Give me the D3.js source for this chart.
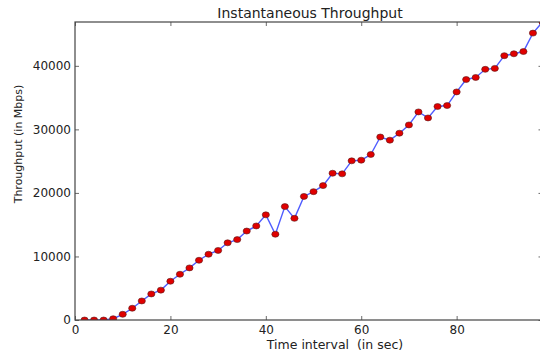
<!DOCTYPE html>
<html>
<head>
<meta charset="utf-8">
<script src="https://cdn.jsdelivr.net/npm/d3@7"></script>
<style>
  html, body { margin: 0; padding: 0; background: #fff; }
  svg { display: block; }
  text { font-family: "DejaVu Sans", sans-serif; fill: #222; }
</style>
</head>
<body>
<svg id="chart" width="540" height="358"></svg>
<script>
// ---- data ----
const timeSec = [2, 4, 6, 8, 10, 12, 14, 16, 18, 20, 22, 24, 26, 28, 30, 32, 34, 36, 38, 40,
                 42, 44, 46, 48, 50, 52, 54, 56, 58, 60, 62, 64, 66, 68, 70, 72, 74, 76, 78, 80,
                 82, 84, 86, 88, 90, 92, 94, 96, 98];
const throughput = [0, 0, 0, 200, 900, 1850, 3000, 4100, 4700, 6100, 7200, 8200, 9400, 10350, 10950,
                    12150, 12650, 14000, 14800, 16550, 13500, 17850, 16000, 19450, 20200, 21150,
                    23100, 23000, 25050, 25150, 26050, 28800, 28300, 29400, 30700, 32750, 31800,
                    33600, 33750, 35900, 37850, 38170, 39450, 39600, 41600, 41900, 42250, 45150, 46900];
const xTicks = [0, 20, 40, 60, 80];
const yTicks = [0, 10000, 20000, 30000, 40000];
const titleText = "Instantaneous Throughput";
const xLabel = "Time interval  (in sec)";
const yLabel = "Throughput (in Mbps)";

(function () {
// ---- layout ----
const svg = d3.select("#chart");
const pL = 75, pT = 22, pR = 542.5, pB = 320;
const x = d3.scaleLinear().domain([0, 98]).range([pL, pR]);
const y = d3.scaleLinear().domain([0, 46900]).range([pB, pT]);

svg.append("defs").append("clipPath").attr("id", "plotclip")
  .append("rect").attr("x", pL).attr("y", pT).attr("width", pR - pL).attr("height", pB - pT);

const data = timeSec.map((t, i) => ({ t, v: throughput[i] }));

const plot = svg.append("g").attr("clip-path", "url(#plotclip)");
plot.append("path")
  .datum(data)
  .attr("fill", "none")
  .attr("stroke", "#4f5cff")
  .attr("stroke-width", 1.4)
  .attr("d", d3.line().x(d => x(d.t)).y(d => y(d.v)));

plot.selectAll("ellipse").data(data).enter().append("ellipse")
  .attr("cx", d => x(d.t)).attr("cy", d => y(d.v))
  .attr("rx", 3.6).attr("ry", 3)
  .attr("fill", "#e00000")
  .attr("stroke", "#5a1a1a").attr("stroke-width", 0.6);

// ---- axes (ticks inward on all sides) ----
const tickLen = 4;
const axCol = "#444";
const gAx = svg.append("g");

const xb = gAx.append("g").attr("transform", `translate(0,${pB})`)
  .call(d3.axisBottom(x).tickValues(xTicks).tickSizeInner(-tickLen).tickSizeOuter(0).tickPadding(5));
const xt = gAx.append("g").attr("transform", `translate(0,${pT})`)
  .call(d3.axisTop(x).tickValues(xTicks).tickSizeInner(-tickLen).tickSizeOuter(0).tickFormat(""));
const yl = gAx.append("g").attr("transform", `translate(${pL},0)`)
  .call(d3.axisLeft(y).tickValues(yTicks).tickSizeInner(-tickLen).tickSizeOuter(0).tickPadding(4)
    .tickFormat(d3.format("d")));
const yr = gAx.append("g").attr("transform", `translate(${pR},0)`)
  .call(d3.axisRight(y).tickValues(yTicks).tickSizeInner(-tickLen).tickSizeOuter(0).tickFormat(""));

[xb, xt, yl, yr].forEach(g => {
  g.select(".domain").remove();
  g.selectAll(".tick line").attr("stroke", axCol).attr("stroke-width", 0.8);
  g.selectAll(".tick text").attr("font-size", 12).attr("font-family", "DejaVu Sans, sans-serif").attr("fill", "#222");
});

svg.append("rect")
  .attr("x", pL).attr("y", pT).attr("width", pR - pL).attr("height", pB - pT)
  .attr("fill", "none").attr("stroke", axCol).attr("stroke-width", 1.2);

// ---- labels ----
svg.append("text").attr("x", 310).attr("y", 18).attr("text-anchor", "middle")
  .attr("font-size", 14).text(titleText);
svg.append("text").attr("x", 335).attr("y", 349).attr("text-anchor", "middle")
  .attr("font-size", 12.5).style("white-space", "pre").text(xLabel);
svg.append("text")
  .attr("transform", `translate(22,144) rotate(-90)`)
  .attr("text-anchor", "middle")
  .attr("font-size", 11).text(yLabel);
})();
</script>
</body>
</html>
